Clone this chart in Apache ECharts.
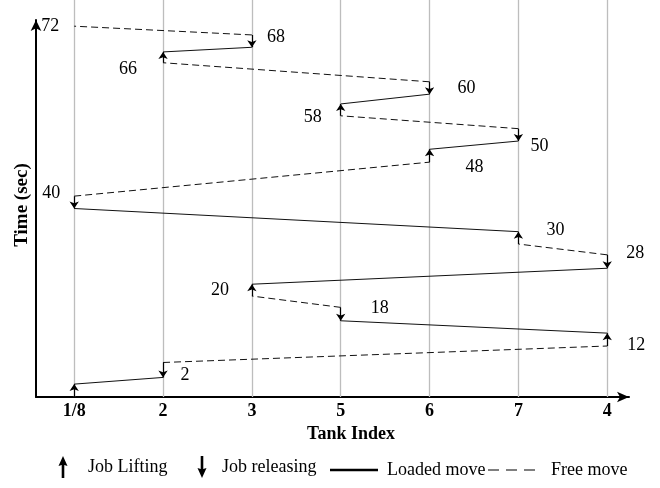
<!DOCTYPE html>
<html><head><meta charset="utf-8">
<script src="https://cdn.jsdelivr.net/npm/echarts@6/dist/echarts.min.js"></script>
<style>html,body{margin:0;padding:0;background:#fff}#chart{width:660px;height:488px}</style>
</head><body><div id="chart"></div>
<script>
// ---------------- data ----------------
const tanks = ['1/8', '2', '3', '5', '6', '7', '4'];

// Job lifting (hoist raises a job at a tank): tank, start time, end time (sec)
const liftTank  = ['1/8', '4', '3', '7', '6', '5', '2'];
const liftStart = [0.0, 9.9, 19.6, 29.7, 45.6, 54.6, 64.9];
const liftEnd   = [2.5, 12.4, 21.9, 32.1, 48.1, 56.9, 67.0];

// Job releasing (hoist lowers the job into a tank)
const releaseTank  = ['2', '5', '4', '1/8', '7', '6', '3'];
const releaseStart = [3.8, 14.8, 25.0, 36.6, 49.7, 58.8, 67.9];
const releaseEnd   = [6.7, 17.4, 27.6, 39.0, 52.1, 61.2, 70.3];

// end of the cycle
const cycleEndTank = '1/8';
const cycleEnd = 72;

// annotated time stamps
const noteTank = ['1/8', '3', '2', '6', '5', '7', '6', '1/8', '7', '4', '3', '5', '4', '2'];
const noteTime = [72, 68, 66, 60, 58, 50, 48, 40, 30, 28, 20, 18, 12, 2];

const seriesNames = ['Job Lifting', 'Job releasing', 'Loaded move', 'Free move'];

// ---------------- layout / style ----------------
const SERIF = 'Liberation Serif';
const noteOffsets = [[-24,0],[24,-10],[-35,12],[37,0],[-28,19],[21,7],[45,17],[-23,2],[37,-12],[28,0],[-32,-4],[39,4],[29,10],[22,-11]];
const Y_MAX = 73.2;
const GRIDLINE_TOP = 77.2;

const xOf = name => tanks.indexOf(name);

const loadedCoords = liftTank.map((t, i) => ({coords: [[xOf(t), liftEnd[i]], [xOf(releaseTank[i]), releaseStart[i]]]}));
const freeCoords = releaseTank.map((t, i) => ({coords: [
  [xOf(t), releaseEnd[i]],
  i < liftTank.length - 1 ? [xOf(liftTank[i + 1]), liftStart[i + 1]] : [xOf(cycleEndTank), cycleEnd]
]}));
const liftCoords = liftTank.map((t, i) => ({coords: [[xOf(t), liftStart[i]], [xOf(t), liftEnd[i]]]}));
const releaseCoords = releaseTank.map((t, i) => ({coords: [[xOf(t), releaseEnd[i]], [xOf(t), releaseStart[i]]]}));
const gridLineCoords = tanks.map((t, i) => ({coords: [[i, 0], [i, GRIDLINE_TOP]]}));

const upArrow = 'path://M4.5,0 L9,10 L5.8,9 L5.8,22 L3.2,22 L3.2,9 L0,10 Z';
const downArrow = 'path://M4.5,22 L9,12 L5.8,13 L5.8,0 L3.2,0 L3.2,13 L0,12 Z';
const solidIcon = 'path://M0,0 H48 V2.5 H0 Z';
const dashIcon = 'path://M0,0 H11 V1.2 H0 Z M18,0 H29 V1.2 H18 Z M36,0 H47 V1.2 H36 Z';

const legendText = {fontFamily: SERIF, fontSize: 18, color: '#000'};
function legendOf(name, icon, left, top, w, h, pad) {
  return {
    data: [{name: name, icon: icon}], left: left, top: top, itemWidth: w, itemHeight: h,
    padding: 0, selectedMode: false, orient: 'horizontal',
    itemStyle: {color: '#000', borderWidth: 0},
    textStyle: Object.assign({padding: pad}, legendText)
  };
}

const chart = echarts.init(document.getElementById('chart'), null, {renderer: 'canvas'});
chart.setOption({
  animation: false,
  backgroundColor: '#fff',
  grid: {left: 36, right: 31, top: 20, bottom: 91, containLabel: false, outerBoundsMode: 'none'},
  legend: [
    legendOf(seriesNames[0], upArrow, 58.5, 456, 9, 22, [4, 0, 0, 15.5]),
    legendOf(seriesNames[1], downArrow, 197.5, 456, 9, 22, [4, 0, 0, 10.5]),
    legendOf(seriesNames[2], solidIcon, 330, 461, 48, 2.5, [0, 0, 0, 4]),
    legendOf(seriesNames[3], dashIcon, 488, 461, 47, 1.2, [0, 0, 0, 11])
  ],
  xAxis: {
    type: 'value', min: -0.43, max: 6.245,
    name: 'Tank Index', nameLocation: 'middle', nameGap: 25,
    nameTextStyle: {fontFamily: SERIF, fontWeight: 'bold', fontSize: 18, color: '#000', padding: [0, 0, 0, 37]},
    axisLine: {show: true, onZero: false, symbol: ['none', 'arrow'], symbolSize: [8, 12], lineStyle: {color: '#000', width: 2}},
    axisTick: {show: false},
    splitLine: {show: false},
    axisLabel: {
      customValues: tanks.map((t, i) => i),
      formatter: v => tanks[Math.round(v)],
      fontFamily: SERIF, fontWeight: 'bold', fontSize: 18, color: '#000', margin: 5
    }
  },
  yAxis: {
    type: 'value', min: 0, max: Y_MAX,
    name: 'Time (sec)', nameLocation: 'middle', nameGap: 4, nameRotate: 90,
    nameTextStyle: {fontFamily: SERIF, fontWeight: 'bold', fontSize: 19, color: '#000', padding: [0, 0, 0, 7]},
    axisLine: {show: true, onZero: false, symbol: ['none', 'arrow'], symbolSize: [8, 11], lineStyle: {color: '#000', width: 2}},
    axisTick: {show: false},
    axisLabel: {show: false},
    splitLine: {show: false}
  },
  series: [
    {
      name: 'tank lines', type: 'lines', coordinateSystem: 'cartesian2d', clip: false, silent: true, z: 1,
      lineStyle: {color: '#bdbdbd', width: 1.3, opacity: 1}, symbol: 'none', data: gridLineCoords
    },
    {
      name: seriesNames[2], type: 'lines', coordinateSystem: 'cartesian2d', z: 3,
      lineStyle: {color: '#111', width: 1, type: 'solid', opacity: 1}, symbol: 'none', data: loadedCoords
    },
    {
      name: seriesNames[3], type: 'lines', coordinateSystem: 'cartesian2d', z: 3,
      lineStyle: {color: '#111', width: 1, type: [7, 4], opacity: 1}, symbol: 'none', data: freeCoords
    },
    {
      name: seriesNames[0], type: 'lines', coordinateSystem: 'cartesian2d', z: 4,
      lineStyle: {color: '#000', width: 1.2, opacity: 1}, symbol: ['none', 'arrow'], symbolSize: 7, data: liftCoords
    },
    {
      name: seriesNames[1], type: 'lines', coordinateSystem: 'cartesian2d', z: 4,
      lineStyle: {color: '#000', width: 1.2, opacity: 1}, symbol: ['none', 'arrow'], symbolSize: 7, data: releaseCoords
    },
    {
      name: 'time notes', type: 'scatter', z: 5, silent: true,
      symbolSize: 1, itemStyle: {color: '#fff', opacity: 0},
      label: {show: true, position: [0.5, 0.5], align: 'center', verticalAlign: 'middle',
              fontFamily: SERIF, fontSize: 18, color: '#000', opacity: 1,
              textBorderWidth: 0, textShadowBlur: 0,
              formatter: p => String(p.value[1])},
      data: noteTank.map((t, i) => ({value: [xOf(t), noteTime[i]], label: {offset: noteOffsets[i]}}))
    }
  ]
});
</script></body></html>
